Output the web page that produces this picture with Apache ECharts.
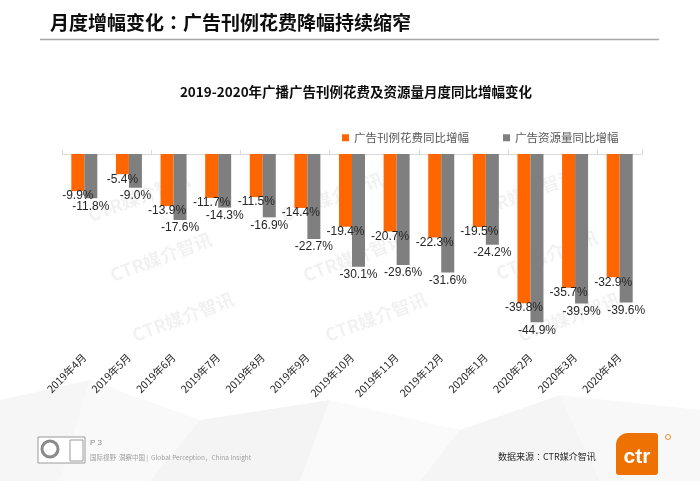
<!DOCTYPE html>
<html>
<head>
<meta charset="utf-8">
<script src="https://cdn.jsdelivr.net/npm/echarts@6/dist/echarts.min.js"></script>
<style>
html,body{margin:0;padding:0;background:#fff;}
#chart{width:700px;height:481px;}
</style>
</head>
<body>
<div id="chart"></div>
<script>
var categories = ['2019年4月','2019年5月','2019年6月','2019年7月','2019年8月','2019年9月','2019年10月','2019年11月','2019年12月','2020年1月','2020年2月','2020年3月','2020年4月'];
var spendGrowth = [-9.9,-5.4,-13.9,-11.7,-11.5,-14.4,-19.4,-20.7,-22.3,-19.5,-39.8,-35.7,-32.9];
var volumeGrowth = [-11.8,-9.0,-17.6,-14.3,-16.9,-22.7,-30.1,-29.6,-31.6,-24.2,-44.9,-39.9,-39.6];
var seriesNames = ['广告刊例花费同比增幅','广告资源量同比增幅'];
var yMin = -50, yMax = 0;

var chart = echarts.init(document.getElementById('chart'), null, {renderer:'canvas'});
var cjk = '"Noto Sans CJK SC", "Microsoft YaHei", sans-serif';
var cjkTC = '"Noto Sans CJK TC", "Noto Sans CJK SC", sans-serif';
var lat = '"Liberation Sans", Arial, sans-serif';

function wm(x, y){
  return {type:'text', x:x, y:y, rotation:0.36, z:-10, silent:true,
    style:{text:'CTR媒介智讯', fill:'rgba(0,0,0,0.055)', font:'bold 18px ' + cjk, align:'center', verticalAlign:'middle'}};
}

var option = {
  animation:false,
  backgroundColor:'#ffffff',
  textStyle:{fontFamily:cjk},
  grid:{left:62, right:58, top:154, height:187.4, containLabel:false},
  legend:{
    data:seriesNames, left:337, top:127, icon:'rect', itemWidth:7, itemHeight:7, itemGap:34, itemTextGap:3,
    textStyle:{fontSize:11.5, color:'#595959', fontFamily:cjk}
  },
  xAxis:[
    {type:'category', data:categories, position:'top',
     axisLine:{show:true, lineStyle:{color:'#d9d9d9', width:1}},
     axisTick:{show:true, length:4, lineStyle:{color:'#d9d9d9'}},
     axisLabel:{show:false}, splitLine:{show:false}},
    {type:'category', data:categories, position:'bottom',
     axisLine:{show:false}, axisTick:{show:false},
     axisLabel:{show:true, rotate:45, margin:14, fontSize:10.5, color:'#262626', fontFamily:cjk, interval:0}}
  ],
  yAxis:{type:'value', min:yMin, max:yMax, show:false, splitLine:{show:false}},
  series:[
    {name:seriesNames[0], type:'bar', data:spendGrowth, xAxisIndex:0, barWidth:13, barGap:'0%',
     itemStyle:{color:'#ff6600'},
     label:{show:true, position:'bottom', distance:-1, fontSize:12, color:'#262626', fontFamily:lat,
       formatter:function(p){return p.value.toFixed(1)+'%';}}},
    {name:seriesNames[1], type:'bar', data:volumeGrowth, xAxisIndex:0, barWidth:13, barGap:'0%',
     itemStyle:{color:'#7f7f7f'},
     label:{show:true, position:'bottom', distance:2, fontSize:12, color:'#262626', fontFamily:lat,
       formatter:function(p){return p.value.toFixed(1)+'%';}}}
  ],
  graphic:{elements:[
    // faint background polygons
    {type:'polygon', z:-20, silent:true, shape:{points:[[0,400],[90,380],[60,481],[0,481]]}, style:{fill:'#f6f6f6'}},
    {type:'polygon', z:-20, silent:true, shape:{points:[[90,380],[200,420],[150,481],[60,481]]}, style:{fill:'#f9f9f9'}},
    {type:'polygon', z:-20, silent:true, shape:{points:[[200,420],[330,400],[300,481],[150,481]]}, style:{fill:'#f4f4f4'}},
    {type:'polygon', z:-20, silent:true, shape:{points:[[330,400],[460,430],[420,481],[300,481]]}, style:{fill:'#fafafa'}},
    {type:'polygon', z:-20, silent:true, shape:{points:[[460,430],[560,395],[600,481],[420,481]]}, style:{fill:'#f5f5f5'}},
    {type:'polygon', z:-20, silent:true, shape:{points:[[560,395],[700,410],[700,481],[600,481]]}, style:{fill:'#f8f8f8'}},
    // watermarks
    wm(139,197), wm(161,257), wm(183,317),
    wm(332,197), wm(354,257), wm(376,317),
    wm(525,193), wm(547,255), wm(569,317),
    // page title
    {type:'text', x:50, y:23, style:{text:'{a|月度增幅变化}{c|：}{a|广告刊例花费降幅持续缩窄}', verticalAlign:'middle',
      rich:{a:{fill:'#0d0d0d', font:'bold 19px ' + cjk}, c:{fill:'#0d0d0d', font:'bold 19px ' + cjkTC}}}},
    {type:'line', shape:{x1:40, y1:39.5, x2:659, y2:39.5}, style:{stroke:'#a6a6a6', lineWidth:1.5}},
    // chart title
    {type:'text', x:356, y:92, style:{text:'2019-2020年广播广告刊例花费及资源量月度同比增幅变化', fill:'#0d0d0d', font:'bold 13.5px ' + cjk, align:'center', verticalAlign:'middle'}},
    // footer SGS badge
    {type:'rect', shape:{x:38, y:437, width:47, height:26}, style:{fill:'#fff', stroke:'#9a9a9a', lineWidth:1}},
    {type:'circle', shape:{cx:50, cy:449, r:8}, style:{fill:'none', stroke:'#8a8a8a', lineWidth:3}},
    {type:'rect', shape:{x:70, y:440, width:13, height:21}, style:{fill:'#fff', stroke:'#9a9a9a', lineWidth:1}},
    {type:'text', x:90, y:443, style:{text:'P 3', fill:'#8c8c8c', font:'8px ' + lat, verticalAlign:'middle'}},
    {type:'text', x:90, y:458, style:{text:'国际视野  洞察中国 |  Global Perception，China Insight', fill:'#a0a0a0', font:'6.5px ' + cjk, verticalAlign:'middle'}},
    // data source
    {type:'text', x:498, y:457, style:{text:'{a|数据来源}{c|：}{a|CTR媒介智讯}', verticalAlign:'middle',
      rich:{a:{fill:'#262626', font:'9px ' + cjk}, c:{fill:'#262626', font:'9px ' + cjkTC}}}},
    // ctr logo
    {type:'rect', shape:{x:616, y:433, width:42, height:42, r:[12,3,3,3]}, style:{fill:'#ee7203'}},
    {type:'text', x:637, y:457, style:{text:'ctr', fill:'#ffffff', font:'bold 21px ' + lat, align:'center', verticalAlign:'middle'}},
    {type:'circle', shape:{cx:668, cy:437, r:2.5}, style:{fill:'none', stroke:'#ee7203', lineWidth:0.8}}
  ]}
};
chart.setOption(option);
</script>
</body>
</html>
